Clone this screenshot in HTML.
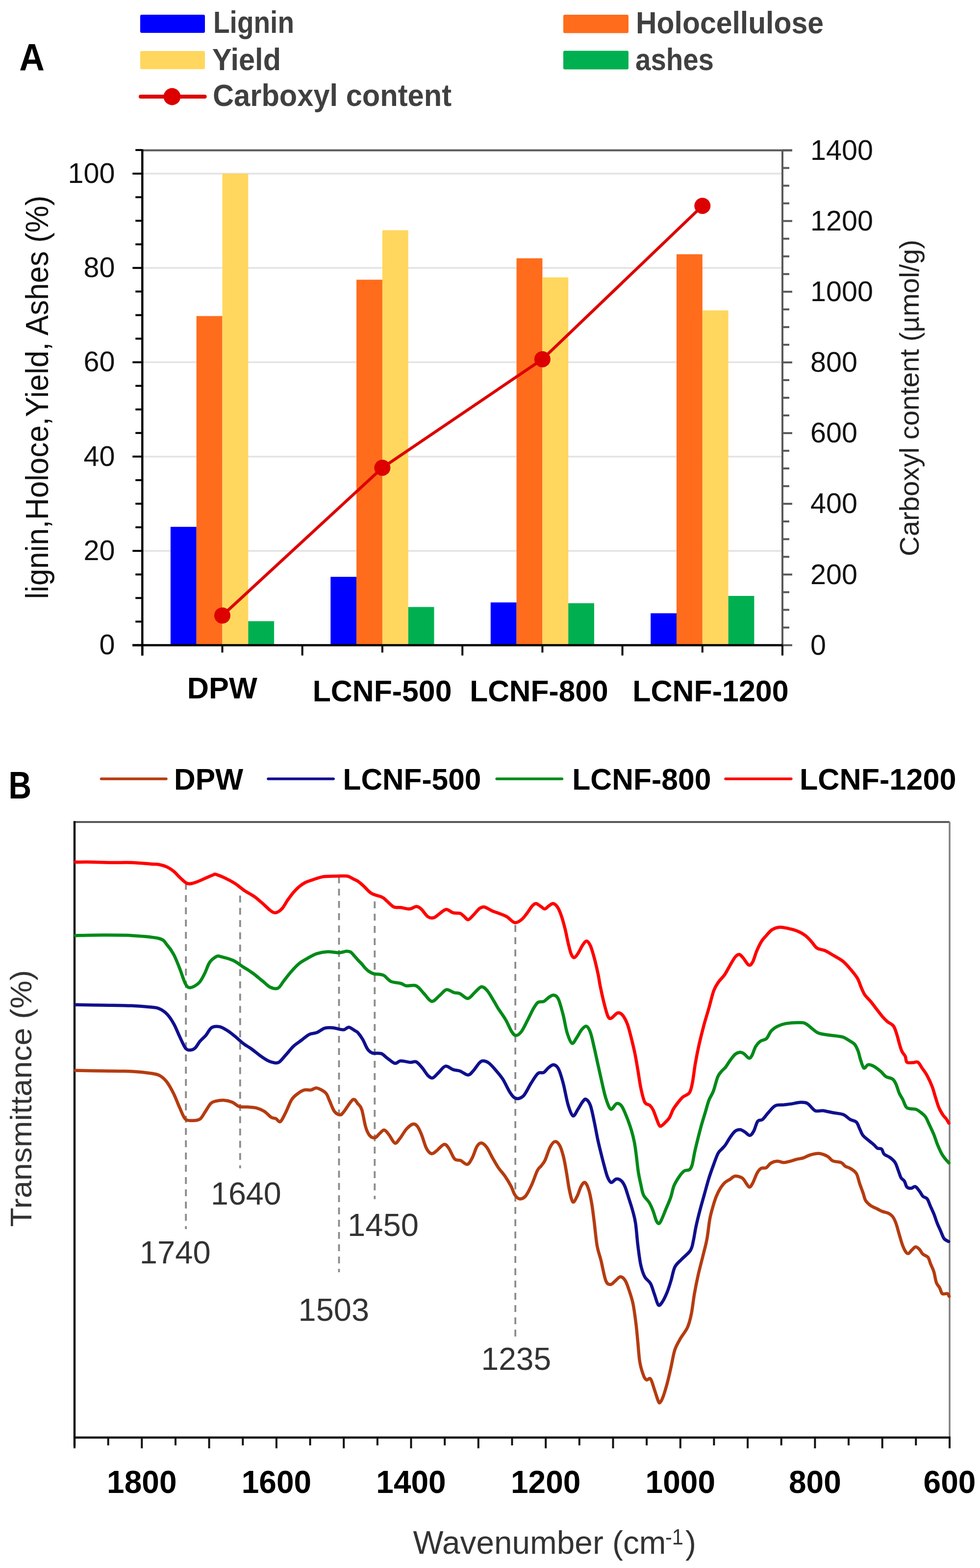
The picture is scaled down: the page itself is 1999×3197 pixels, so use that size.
<!DOCTYPE html>
<html><head><meta charset="utf-8"><title>Figure</title>
<style>html,body{margin:0;padding:0;background:#fff;}svg{display:block;font-family:"Liberation Sans", sans-serif;}</style>
</head><body>
<svg width="1999" height="3197" viewBox="0 0 1999 3197">
<rect width="1999" height="3197" fill="#fff"/>
<line x1="290.3" y1="1123.2" x2="1596.0" y2="1123.2" stroke="#E3E3E3" stroke-width="3.5"/>
<line x1="290.3" y1="930.9" x2="1596.0" y2="930.9" stroke="#E3E3E3" stroke-width="3.5"/>
<line x1="290.3" y1="738.6" x2="1596.0" y2="738.6" stroke="#E3E3E3" stroke-width="3.5"/>
<line x1="290.3" y1="546.3" x2="1596.0" y2="546.3" stroke="#E3E3E3" stroke-width="3.5"/>
<line x1="290.3" y1="354.0" x2="1596.0" y2="354.0" stroke="#E3E3E3" stroke-width="3.5"/>
<rect x="347.9" y="1074.2" width="52.8" height="241.3" fill="#0000FF"/>
<rect x="400.7" y="644.4" width="52.8" height="671.1" fill="#FF6C1C"/>
<rect x="453.5" y="354.0" width="52.8" height="961.5" fill="#FFD75E"/>
<rect x="506.3" y="1266.5" width="52.8" height="49.0" fill="#00B050"/>
<rect x="674.3" y="1176.1" width="52.8" height="139.4" fill="#0000FF"/>
<rect x="727.1" y="570.3" width="52.8" height="745.2" fill="#FF6C1C"/>
<rect x="779.9" y="469.4" width="52.8" height="846.1" fill="#FFD75E"/>
<rect x="832.7" y="1237.6" width="52.8" height="77.9" fill="#00B050"/>
<rect x="1000.8" y="1228.3" width="52.8" height="87.2" fill="#0000FF"/>
<rect x="1053.6" y="526.6" width="52.8" height="788.9" fill="#FF6C1C"/>
<rect x="1106.4" y="565.5" width="52.8" height="750.0" fill="#FFD75E"/>
<rect x="1159.2" y="1229.9" width="52.8" height="85.6" fill="#00B050"/>
<rect x="1327.2" y="1250.4" width="52.8" height="65.1" fill="#0000FF"/>
<rect x="1380.0" y="518.4" width="52.8" height="797.1" fill="#FF6C1C"/>
<rect x="1432.8" y="632.8" width="52.8" height="682.7" fill="#FFD75E"/>
<rect x="1485.6" y="1215.0" width="52.8" height="100.5" fill="#00B050"/>
<line x1="288.3" y1="306.5" x2="1616.0" y2="306.5" stroke="#595959" stroke-width="4"/>
<line x1="1596.0" y1="306.5" x2="1596.0" y2="1315.5" stroke="#595959" stroke-width="4"/>
<line x1="290.3" y1="304.5" x2="290.3" y2="1336.5" stroke="#000" stroke-width="4.5"/>
<line x1="270.3" y1="1315.5" x2="1598.0" y2="1315.5" stroke="#000" stroke-width="4.5"/>
<line x1="270.3" y1="1315.5" x2="290.3" y2="1315.5" stroke="#000" stroke-width="4"/>
<line x1="276.3" y1="1267.4" x2="290.3" y2="1267.4" stroke="#000" stroke-width="4"/>
<line x1="276.3" y1="1219.3" x2="290.3" y2="1219.3" stroke="#000" stroke-width="4"/>
<line x1="276.3" y1="1171.3" x2="290.3" y2="1171.3" stroke="#000" stroke-width="4"/>
<line x1="270.3" y1="1123.2" x2="290.3" y2="1123.2" stroke="#000" stroke-width="4"/>
<line x1="276.3" y1="1075.1" x2="290.3" y2="1075.1" stroke="#000" stroke-width="4"/>
<line x1="276.3" y1="1027.0" x2="290.3" y2="1027.0" stroke="#000" stroke-width="4"/>
<line x1="276.3" y1="979.0" x2="290.3" y2="979.0" stroke="#000" stroke-width="4"/>
<line x1="270.3" y1="930.9" x2="290.3" y2="930.9" stroke="#000" stroke-width="4"/>
<line x1="276.3" y1="882.8" x2="290.3" y2="882.8" stroke="#000" stroke-width="4"/>
<line x1="276.3" y1="834.8" x2="290.3" y2="834.8" stroke="#000" stroke-width="4"/>
<line x1="276.3" y1="786.7" x2="290.3" y2="786.7" stroke="#000" stroke-width="4"/>
<line x1="270.3" y1="738.6" x2="290.3" y2="738.6" stroke="#000" stroke-width="4"/>
<line x1="276.3" y1="690.5" x2="290.3" y2="690.5" stroke="#000" stroke-width="4"/>
<line x1="276.3" y1="642.5" x2="290.3" y2="642.5" stroke="#000" stroke-width="4"/>
<line x1="276.3" y1="594.4" x2="290.3" y2="594.4" stroke="#000" stroke-width="4"/>
<line x1="270.3" y1="546.3" x2="290.3" y2="546.3" stroke="#000" stroke-width="4"/>
<line x1="276.3" y1="498.2" x2="290.3" y2="498.2" stroke="#000" stroke-width="4"/>
<line x1="276.3" y1="450.1" x2="290.3" y2="450.1" stroke="#000" stroke-width="4"/>
<line x1="276.3" y1="402.1" x2="290.3" y2="402.1" stroke="#000" stroke-width="4"/>
<line x1="270.3" y1="354.0" x2="290.3" y2="354.0" stroke="#000" stroke-width="4"/>
<line x1="276.3" y1="305.9" x2="290.3" y2="305.9" stroke="#000" stroke-width="4"/>
<line x1="1596.0" y1="1315.5" x2="1616.0" y2="1315.5" stroke="#595959" stroke-width="4"/>
<line x1="1596.0" y1="1279.5" x2="1610.0" y2="1279.5" stroke="#595959" stroke-width="4"/>
<line x1="1596.0" y1="1243.4" x2="1610.0" y2="1243.4" stroke="#595959" stroke-width="4"/>
<line x1="1596.0" y1="1207.4" x2="1610.0" y2="1207.4" stroke="#595959" stroke-width="4"/>
<line x1="1596.0" y1="1171.4" x2="1616.0" y2="1171.4" stroke="#595959" stroke-width="4"/>
<line x1="1596.0" y1="1135.3" x2="1610.0" y2="1135.3" stroke="#595959" stroke-width="4"/>
<line x1="1596.0" y1="1099.3" x2="1610.0" y2="1099.3" stroke="#595959" stroke-width="4"/>
<line x1="1596.0" y1="1063.2" x2="1610.0" y2="1063.2" stroke="#595959" stroke-width="4"/>
<line x1="1596.0" y1="1027.2" x2="1616.0" y2="1027.2" stroke="#595959" stroke-width="4"/>
<line x1="1596.0" y1="991.2" x2="1610.0" y2="991.2" stroke="#595959" stroke-width="4"/>
<line x1="1596.0" y1="955.1" x2="1610.0" y2="955.1" stroke="#595959" stroke-width="4"/>
<line x1="1596.0" y1="919.1" x2="1610.0" y2="919.1" stroke="#595959" stroke-width="4"/>
<line x1="1596.0" y1="883.1" x2="1616.0" y2="883.1" stroke="#595959" stroke-width="4"/>
<line x1="1596.0" y1="847.0" x2="1610.0" y2="847.0" stroke="#595959" stroke-width="4"/>
<line x1="1596.0" y1="811.0" x2="1610.0" y2="811.0" stroke="#595959" stroke-width="4"/>
<line x1="1596.0" y1="775.0" x2="1610.0" y2="775.0" stroke="#595959" stroke-width="4"/>
<line x1="1596.0" y1="738.9" x2="1616.0" y2="738.9" stroke="#595959" stroke-width="4"/>
<line x1="1596.0" y1="702.9" x2="1610.0" y2="702.9" stroke="#595959" stroke-width="4"/>
<line x1="1596.0" y1="666.9" x2="1610.0" y2="666.9" stroke="#595959" stroke-width="4"/>
<line x1="1596.0" y1="630.8" x2="1610.0" y2="630.8" stroke="#595959" stroke-width="4"/>
<line x1="1596.0" y1="594.8" x2="1616.0" y2="594.8" stroke="#595959" stroke-width="4"/>
<line x1="1596.0" y1="558.8" x2="1610.0" y2="558.8" stroke="#595959" stroke-width="4"/>
<line x1="1596.0" y1="522.7" x2="1610.0" y2="522.7" stroke="#595959" stroke-width="4"/>
<line x1="1596.0" y1="486.7" x2="1610.0" y2="486.7" stroke="#595959" stroke-width="4"/>
<line x1="1596.0" y1="450.6" x2="1616.0" y2="450.6" stroke="#595959" stroke-width="4"/>
<line x1="1596.0" y1="414.6" x2="1610.0" y2="414.6" stroke="#595959" stroke-width="4"/>
<line x1="1596.0" y1="378.6" x2="1610.0" y2="378.6" stroke="#595959" stroke-width="4"/>
<line x1="1596.0" y1="342.5" x2="1610.0" y2="342.5" stroke="#595959" stroke-width="4"/>
<line x1="1596.0" y1="306.5" x2="1616.0" y2="306.5" stroke="#595959" stroke-width="4"/>
<line x1="290.3" y1="1315.5" x2="290.3" y2="1336.5" stroke="#000" stroke-width="4"/>
<line x1="453.5" y1="1315.5" x2="453.5" y2="1330.5" stroke="#000" stroke-width="4"/>
<line x1="616.7" y1="1315.5" x2="616.7" y2="1336.5" stroke="#000" stroke-width="4"/>
<line x1="779.9" y1="1315.5" x2="779.9" y2="1330.5" stroke="#000" stroke-width="4"/>
<line x1="943.2" y1="1315.5" x2="943.2" y2="1336.5" stroke="#000" stroke-width="4"/>
<line x1="1106.4" y1="1315.5" x2="1106.4" y2="1330.5" stroke="#000" stroke-width="4"/>
<line x1="1269.6" y1="1315.5" x2="1269.6" y2="1336.5" stroke="#000" stroke-width="4"/>
<line x1="1432.8" y1="1315.5" x2="1432.8" y2="1330.5" stroke="#000" stroke-width="4"/>
<line x1="1596.0" y1="1315.5" x2="1596.0" y2="1336.5" stroke="#000" stroke-width="4"/>
<polyline points="453.5,1255.0 779.9,953.7 1106.4,732.4 1432.8,419.7" fill="none" stroke="#DD0000" stroke-width="6" stroke-linejoin="round"/>
<circle cx="453.5" cy="1255.0" r="16.5" fill="#DD0000"/>
<circle cx="779.9" cy="953.7" r="16.5" fill="#DD0000"/>
<circle cx="1106.4" cy="732.4" r="16.5" fill="#DD0000"/>
<circle cx="1432.8" cy="419.7" r="16.5" fill="#DD0000"/>
<text x="234.5" y="1334.1" font-size="57.5" fill="#111" text-anchor="end">0</text>
<text x="234.5" y="1141.8" font-size="57.5" fill="#111" text-anchor="end">20</text>
<text x="234.5" y="949.5" font-size="57.5" fill="#111" text-anchor="end">40</text>
<text x="234.5" y="757.2" font-size="57.5" fill="#111" text-anchor="end">60</text>
<text x="234.5" y="564.9" font-size="57.5" fill="#111" text-anchor="end">80</text>
<text x="234.5" y="372.6" font-size="57.5" fill="#111" text-anchor="end">100</text>
<text x="1653.0" y="1334.7" font-size="57.5" fill="#111">0</text>
<text x="1653.0" y="1190.6" font-size="57.5" fill="#111">200</text>
<text x="1653.0" y="1046.4" font-size="57.5" fill="#111">400</text>
<text x="1653.0" y="902.3" font-size="57.5" fill="#111">600</text>
<text x="1653.0" y="758.1" font-size="57.5" fill="#111">800</text>
<text x="1653.0" y="614.0" font-size="57.5" fill="#111">1000</text>
<text x="1653.0" y="469.8" font-size="57.5" fill="#111">1200</text>
<text x="1653.0" y="325.7" font-size="57.5" fill="#111">1400</text>
<text x="381.8" y="1424.3" font-size="62" fill="#000" font-weight="bold" textLength="142.9" lengthAdjust="spacingAndGlyphs">DPW</text>
<text x="637.7" y="1429.6" font-size="62" fill="#000" font-weight="bold" textLength="283.8" lengthAdjust="spacingAndGlyphs">LCNF-500</text>
<text x="958.2" y="1430.4" font-size="62" fill="#000" font-weight="bold" textLength="282.4" lengthAdjust="spacingAndGlyphs">LCNF-800</text>
<text x="1290.2" y="1430.4" font-size="62" fill="#000" font-weight="bold" textLength="318.5" lengthAdjust="spacingAndGlyphs">LCNF-1200</text>
<text x="98.2" y="1221.6" font-size="64" fill="#111" textLength="823.0" lengthAdjust="spacingAndGlyphs" transform="rotate(-90 98.2 1221.6)">lignin,Holoce,Yield, Ashes (%)</text>
<text x="1874.0" y="1133.9" font-size="55" fill="#222" textLength="645.2" lengthAdjust="spacingAndGlyphs" transform="rotate(-90 1874.0 1133.9)">Carboxyl content (µmol/g)</text>
<rect x="286.0" y="30.0" width="132.0" height="37.0" fill="#0000FF" rx="3"/>
<rect x="286.0" y="104.0" width="132.0" height="37.0" fill="#FFD75E" rx="3"/>
<rect x="1149.0" y="30.0" width="133.0" height="37.5" fill="#FF6C1C" rx="3"/>
<rect x="1149.0" y="103.5" width="133.0" height="38.0" fill="#00B050" rx="3"/>
<line x1="287.0" y1="197.0" x2="417.6" y2="197.0" stroke="#DD0000" stroke-width="8" stroke-linecap="round"/>
<circle cx="351" cy="197" r="17.4" fill="#DD0000"/>
<text x="435.0" y="67.4" font-size="63" fill="#404040" font-weight="bold" textLength="165.0" lengthAdjust="spacingAndGlyphs">Lignin</text>
<text x="433.0" y="143.0" font-size="63" fill="#404040" font-weight="bold" textLength="140.0" lengthAdjust="spacingAndGlyphs">Yield</text>
<text x="434.0" y="216.0" font-size="63" fill="#404040" font-weight="bold" textLength="487.0" lengthAdjust="spacingAndGlyphs">Carboxyl content</text>
<text x="1297.0" y="68.4" font-size="63" fill="#404040" font-weight="bold" textLength="383.0" lengthAdjust="spacingAndGlyphs">Holocellulose</text>
<text x="1296.0" y="142.7" font-size="63" fill="#404040" font-weight="bold" textLength="160.0" lengthAdjust="spacingAndGlyphs">ashes</text>
<text x="39.2" y="144.2" font-size="78" fill="#000" font-weight="bold" textLength="51.6" lengthAdjust="spacingAndGlyphs">A</text>
<text x="17.4" y="1628.0" font-size="78" fill="#000" font-weight="bold" textLength="46.6" lengthAdjust="spacingAndGlyphs">B</text>
<line x1="206.5" y1="1588.0" x2="339.0" y2="1588.0" stroke="#B53C10" stroke-width="5.5" stroke-linecap="round"/>
<text x="355.0" y="1610.0" font-size="62" fill="#000" font-weight="bold" textLength="141.2" lengthAdjust="spacingAndGlyphs">DPW</text>
<line x1="547.0" y1="1588.0" x2="680.2" y2="1588.0" stroke="#10108E" stroke-width="5.5" stroke-linecap="round"/>
<text x="699.5" y="1610.0" font-size="62" fill="#000" font-weight="bold" textLength="281.8" lengthAdjust="spacingAndGlyphs">LCNF-500</text>
<line x1="1013.2" y1="1588.0" x2="1146.4" y2="1588.0" stroke="#008A18" stroke-width="5.5" stroke-linecap="round"/>
<text x="1167.3" y="1610.0" font-size="62" fill="#000" font-weight="bold" textLength="283.1" lengthAdjust="spacingAndGlyphs">LCNF-800</text>
<line x1="1480.0" y1="1588.0" x2="1613.8" y2="1588.0" stroke="#FF0000" stroke-width="5.5" stroke-linecap="round"/>
<text x="1631.0" y="1610.0" font-size="62" fill="#000" font-weight="bold" textLength="319.4" lengthAdjust="spacingAndGlyphs">LCNF-1200</text>
<line x1="150.0" y1="1676.0" x2="1937.0" y2="1676.0" stroke="#595959" stroke-width="4"/>
<line x1="1937.0" y1="1676.0" x2="1937.0" y2="2931.0" stroke="#7f7f7f" stroke-width="3.5"/>
<line x1="152.0" y1="1674.0" x2="152.0" y2="2949.0" stroke="#111" stroke-width="4.5"/>
<line x1="152.0" y1="2931.0" x2="1939.0" y2="2931.0" stroke="#111" stroke-width="4.5"/>
<line x1="152.0" y1="2931.0" x2="152.0" y2="2953.0" stroke="#111" stroke-width="4"/>
<line x1="220.7" y1="2931.0" x2="220.7" y2="2947.0" stroke="#111" stroke-width="4"/>
<line x1="289.3" y1="2931.0" x2="289.3" y2="2953.0" stroke="#111" stroke-width="4"/>
<line x1="358.0" y1="2931.0" x2="358.0" y2="2947.0" stroke="#111" stroke-width="4"/>
<line x1="426.6" y1="2931.0" x2="426.6" y2="2953.0" stroke="#111" stroke-width="4"/>
<line x1="495.3" y1="2931.0" x2="495.3" y2="2947.0" stroke="#111" stroke-width="4"/>
<line x1="563.9" y1="2931.0" x2="563.9" y2="2953.0" stroke="#111" stroke-width="4"/>
<line x1="632.6" y1="2931.0" x2="632.6" y2="2947.0" stroke="#111" stroke-width="4"/>
<line x1="701.2" y1="2931.0" x2="701.2" y2="2953.0" stroke="#111" stroke-width="4"/>
<line x1="769.9" y1="2931.0" x2="769.9" y2="2947.0" stroke="#111" stroke-width="4"/>
<line x1="838.5" y1="2931.0" x2="838.5" y2="2953.0" stroke="#111" stroke-width="4"/>
<line x1="907.2" y1="2931.0" x2="907.2" y2="2947.0" stroke="#111" stroke-width="4"/>
<line x1="975.8" y1="2931.0" x2="975.8" y2="2953.0" stroke="#111" stroke-width="4"/>
<line x1="1044.5" y1="2931.0" x2="1044.5" y2="2947.0" stroke="#111" stroke-width="4"/>
<line x1="1113.2" y1="2931.0" x2="1113.2" y2="2953.0" stroke="#111" stroke-width="4"/>
<line x1="1181.8" y1="2931.0" x2="1181.8" y2="2947.0" stroke="#111" stroke-width="4"/>
<line x1="1250.5" y1="2931.0" x2="1250.5" y2="2953.0" stroke="#111" stroke-width="4"/>
<line x1="1319.1" y1="2931.0" x2="1319.1" y2="2947.0" stroke="#111" stroke-width="4"/>
<line x1="1387.8" y1="2931.0" x2="1387.8" y2="2953.0" stroke="#111" stroke-width="4"/>
<line x1="1456.4" y1="2931.0" x2="1456.4" y2="2947.0" stroke="#111" stroke-width="4"/>
<line x1="1525.1" y1="2931.0" x2="1525.1" y2="2953.0" stroke="#111" stroke-width="4"/>
<line x1="1593.7" y1="2931.0" x2="1593.7" y2="2947.0" stroke="#111" stroke-width="4"/>
<line x1="1662.4" y1="2931.0" x2="1662.4" y2="2953.0" stroke="#111" stroke-width="4"/>
<line x1="1731.0" y1="2931.0" x2="1731.0" y2="2947.0" stroke="#111" stroke-width="4"/>
<line x1="1799.7" y1="2931.0" x2="1799.7" y2="2953.0" stroke="#111" stroke-width="4"/>
<line x1="1868.3" y1="2931.0" x2="1868.3" y2="2947.0" stroke="#111" stroke-width="4"/>
<line x1="1937.0" y1="2931.0" x2="1937.0" y2="2953.0" stroke="#111" stroke-width="4"/>
<text x="1937.0" y="3044.0" font-size="64" fill="#000" font-weight="bold" text-anchor="middle">600</text>
<text x="1662.4" y="3044.0" font-size="64" fill="#000" font-weight="bold" text-anchor="middle">800</text>
<text x="1387.8" y="3044.0" font-size="64" fill="#000" font-weight="bold" text-anchor="middle">1000</text>
<text x="1113.2" y="3044.0" font-size="64" fill="#000" font-weight="bold" text-anchor="middle">1200</text>
<text x="838.5" y="3044.0" font-size="64" fill="#000" font-weight="bold" text-anchor="middle">1400</text>
<text x="563.9" y="3044.0" font-size="64" fill="#000" font-weight="bold" text-anchor="middle">1600</text>
<text x="289.3" y="3044.0" font-size="64" fill="#000" font-weight="bold" text-anchor="middle">1800</text>
<text x="842.5" y="3168.1" font-size="66" fill="#333" textLength="516" lengthAdjust="spacingAndGlyphs">Wavenumber (cm</text>
<text x="1357" y="3149" font-size="44" fill="#333" textLength="37" lengthAdjust="spacingAndGlyphs">-1</text>
<text x="1398" y="3168.1" font-size="66" fill="#333">)</text>
<text x="64.5" y="2501.4" font-size="61" fill="#333" textLength="523.7" lengthAdjust="spacingAndGlyphs" transform="rotate(-90 64.5 2501.4)">Transmittance (%)</text>
<line x1="379.2" y1="1800.0" x2="379.2" y2="2506.0" stroke="#8c8c8c" stroke-width="3.8" stroke-dasharray="14,11"/>
<line x1="489.8" y1="1826.0" x2="489.8" y2="2382.0" stroke="#8c8c8c" stroke-width="3.8" stroke-dasharray="14,11"/>
<line x1="691.5" y1="1787.0" x2="691.5" y2="2594.0" stroke="#8c8c8c" stroke-width="3.8" stroke-dasharray="14,11"/>
<line x1="764.3" y1="1838.0" x2="764.3" y2="2445.0" stroke="#8c8c8c" stroke-width="3.8" stroke-dasharray="14,11"/>
<line x1="1051.2" y1="1886.0" x2="1051.2" y2="2726.0" stroke="#8c8c8c" stroke-width="3.8" stroke-dasharray="14,11"/>
<path d="M154.0,2182.5 C163.2,2182.7 190.3,2183.2 209.5,2183.5 C228.7,2183.8 252.5,2183.7 269.0,2184.5 C285.5,2185.3 299.1,2187.0 308.7,2188.5 C318.3,2190.0 321.3,2190.5 326.6,2193.5 C331.9,2196.5 335.9,2200.2 340.5,2206.3 C345.1,2212.4 350.1,2221.6 354.4,2230.2 C358.7,2238.8 362.3,2249.4 366.3,2258.0 C370.3,2266.6 373.6,2277.2 378.2,2281.7 C382.8,2286.1 389.1,2284.7 394.0,2284.7 C398.9,2284.7 403.9,2284.5 407.9,2281.7 C411.9,2278.9 414.2,2273.2 417.9,2267.9 C421.5,2262.6 426.1,2253.8 429.8,2250.0 C433.5,2246.2 435.6,2246.3 440.0,2245.2 C444.4,2244.1 450.3,2242.9 455.9,2243.2 C461.5,2243.5 468.4,2245.0 473.7,2247.2 C479.0,2249.3 482.3,2254.4 487.6,2256.1 C492.9,2257.8 499.6,2256.6 505.5,2257.1 C511.4,2257.6 517.7,2257.6 523.3,2259.1 C528.9,2260.6 534.2,2262.9 539.2,2266.0 C544.2,2269.1 549.1,2275.4 553.1,2277.9 C557.1,2280.4 559.9,2279.4 563.0,2280.9 C566.1,2282.4 568.6,2289.1 571.9,2286.9 C575.2,2284.8 579.1,2275.4 582.9,2268.0 C586.7,2260.6 590.8,2248.5 594.8,2242.2 C598.8,2235.9 602.4,2233.6 606.7,2230.3 C611.0,2227.0 616.0,2223.7 620.6,2222.4 C625.2,2221.1 630.1,2223.1 634.4,2222.4 C638.7,2221.7 641.3,2217.4 646.3,2218.4 C651.3,2219.4 659.9,2224.0 664.2,2228.3 C668.5,2232.6 669.1,2237.9 672.1,2244.2 C675.1,2250.5 678.5,2261.2 682.1,2266.0 C685.8,2270.8 690.7,2273.0 694.0,2273.0 C697.3,2273.0 697.6,2271.1 701.9,2266.0 C706.2,2260.9 715.2,2244.8 719.8,2242.2 C724.4,2239.6 726.7,2246.9 729.7,2250.2 C732.7,2253.5 735.2,2254.2 737.9,2262.2 C740.6,2270.1 743.2,2289.1 745.9,2297.9 C748.5,2306.7 750.7,2311.2 753.8,2314.8 C756.9,2318.5 761.4,2320.3 764.7,2319.8 C768.0,2319.3 770.6,2314.5 773.7,2311.8 C776.9,2309.2 780.3,2303.6 783.6,2303.9 C786.9,2304.2 789.9,2309.3 793.5,2313.8 C797.1,2318.3 801.8,2329.4 805.4,2330.7 C809.0,2332.0 811.3,2326.5 815.3,2321.7 C819.3,2316.9 824.7,2306.8 829.2,2301.9 C833.7,2297.0 838.5,2293.0 842.1,2292.0 C845.7,2291.0 848.0,2292.4 851.0,2296.0 C854.0,2299.6 856.8,2305.9 859.9,2313.5 C863.0,2321.1 866.5,2334.9 869.8,2341.3 C873.1,2347.8 876.5,2351.2 879.8,2352.2 C883.1,2353.2 885.4,2350.3 889.7,2347.2 C894.0,2344.0 901.3,2334.3 905.6,2333.3 C909.9,2332.3 911.9,2336.3 915.5,2341.3 C919.1,2346.3 923.4,2359.0 927.4,2363.1 C931.4,2367.2 935.0,2364.3 939.3,2366.1 C943.6,2367.9 949.2,2374.8 953.2,2374.0 C957.2,2373.2 959.8,2367.2 963.1,2361.1 C966.4,2355.0 969.9,2342.4 973.0,2337.3 C976.1,2332.2 978.6,2330.1 981.9,2330.4 C985.2,2330.7 989.1,2334.2 992.9,2339.3 C996.7,2344.4 1000.8,2354.2 1004.8,2361.1 C1008.8,2368.0 1012.4,2374.7 1016.7,2381.0 C1021.0,2387.3 1026.3,2392.5 1030.6,2398.8 C1034.9,2405.1 1039.2,2412.4 1042.5,2418.7 C1045.8,2425.0 1047.4,2432.2 1050.4,2436.5 C1053.4,2440.8 1056.7,2444.1 1060.3,2444.4 C1063.9,2444.7 1068.2,2443.1 1072.2,2438.5 C1076.2,2433.9 1080.1,2425.3 1084.1,2416.7 C1088.1,2408.1 1092.7,2393.5 1096.0,2386.9 C1099.3,2380.3 1101.3,2380.6 1104.0,2377.0 C1106.7,2373.4 1108.9,2371.6 1111.9,2365.3 C1114.9,2359.1 1118.5,2345.8 1121.8,2339.5 C1125.1,2333.2 1128.4,2328.2 1131.7,2327.6 C1135.0,2326.9 1138.7,2330.3 1141.7,2335.6 C1144.7,2340.9 1147.3,2350.2 1149.6,2359.4 C1151.9,2368.7 1153.6,2379.9 1155.6,2391.1 C1157.6,2402.3 1159.3,2416.9 1161.5,2426.8 C1163.7,2436.7 1165.8,2448.6 1168.5,2450.6 C1171.2,2452.6 1174.6,2444.0 1177.4,2438.7 C1180.2,2433.4 1182.7,2423.5 1185.3,2418.9 C1187.9,2414.3 1190.6,2409.7 1193.3,2411.0 C1196.0,2412.3 1198.9,2419.5 1201.2,2426.8 C1203.5,2434.1 1205.3,2444.1 1207.1,2454.6 C1208.9,2465.1 1210.1,2475.8 1211.9,2490.0 C1213.7,2504.2 1215.6,2526.5 1217.9,2539.7 C1220.2,2552.9 1222.8,2557.5 1225.8,2569.4 C1228.8,2581.3 1232.4,2602.8 1235.7,2611.1 C1239.0,2619.4 1242.3,2619.0 1245.6,2619.0 C1248.9,2619.0 1252.3,2613.7 1255.6,2611.1 C1258.9,2608.5 1262.2,2603.2 1265.5,2603.2 C1268.8,2603.2 1272.4,2606.5 1275.4,2611.1 C1278.4,2615.7 1280.7,2623.1 1283.3,2631.0 C1285.9,2638.9 1289.0,2647.5 1291.3,2658.7 C1293.6,2669.9 1295.5,2685.2 1297.2,2698.4 C1298.9,2711.6 1299.9,2724.9 1301.2,2738.1 C1302.5,2751.3 1303.2,2766.6 1305.2,2777.8 C1307.2,2789.1 1310.8,2799.7 1313.1,2805.6 C1315.4,2811.5 1316.7,2812.5 1319.0,2813.5 C1321.3,2814.5 1324.3,2808.2 1327.0,2811.5 C1329.7,2814.8 1332.2,2825.7 1334.9,2833.3 C1337.6,2840.9 1340.9,2852.8 1342.9,2857.1 C1344.9,2861.4 1345.2,2860.8 1346.8,2859.1 C1348.4,2857.4 1350.5,2853.5 1352.8,2847.2 C1355.1,2840.9 1358.0,2831.3 1360.7,2821.4 C1363.4,2811.5 1366.1,2799.3 1368.7,2787.7 C1371.3,2776.1 1373.3,2761.9 1376.6,2752.0 C1379.9,2742.1 1384.2,2735.8 1388.5,2728.2 C1392.8,2720.6 1398.8,2714.6 1402.4,2706.3 C1406.0,2698.0 1408.0,2689.8 1410.3,2678.6 C1412.6,2667.4 1414.0,2652.1 1416.3,2638.9 C1418.6,2625.7 1421.2,2612.4 1424.2,2599.2 C1427.2,2586.0 1431.1,2571.7 1434.1,2559.5 C1437.1,2547.3 1439.8,2538.2 1442.1,2525.8 C1444.4,2513.4 1445.8,2496.5 1447.9,2485.3 C1450.0,2474.2 1452.4,2466.6 1454.6,2458.9 C1456.8,2451.2 1458.8,2444.9 1461.2,2439.0 C1463.6,2433.1 1466.2,2427.8 1469.1,2423.2 C1472.0,2418.6 1475.1,2414.4 1478.4,2411.3 C1481.7,2408.2 1485.4,2406.9 1488.9,2404.7 C1492.4,2402.5 1495.3,2398.4 1499.5,2398.0 C1503.7,2397.6 1510.3,2399.6 1514.1,2402.0 C1517.8,2404.4 1519.6,2409.5 1522.0,2412.6 C1524.4,2415.7 1526.4,2420.5 1528.6,2420.5 C1530.8,2420.5 1532.5,2417.4 1535.2,2412.6 C1537.9,2407.8 1541.6,2396.5 1544.5,2391.4 C1547.4,2386.3 1549.3,2384.0 1552.4,2382.2 C1555.5,2380.4 1559.7,2382.6 1563.0,2380.8 C1566.3,2379.0 1568.5,2373.8 1572.3,2371.6 C1576.0,2369.4 1581.1,2367.8 1585.5,2367.6 C1589.9,2367.4 1594.3,2370.3 1598.7,2370.3 C1603.1,2370.3 1607.6,2368.7 1612.0,2367.6 C1616.4,2366.5 1620.8,2364.8 1625.2,2363.7 C1629.7,2362.6 1634.1,2362.3 1638.7,2360.8 C1643.3,2359.3 1647.3,2356.3 1652.6,2354.8 C1657.9,2353.3 1664.5,2351.3 1670.5,2351.8 C1676.5,2352.3 1683.6,2355.3 1688.3,2357.8 C1693.0,2360.3 1694.0,2364.8 1698.6,2366.9 C1703.2,2369.0 1711.5,2368.5 1715.8,2370.4 C1720.1,2372.3 1721.2,2376.1 1724.4,2378.1 C1727.6,2380.1 1731.0,2380.0 1734.7,2382.4 C1738.4,2384.8 1743.7,2387.5 1746.8,2392.7 C1749.9,2397.9 1751.3,2406.8 1753.6,2413.4 C1755.9,2420.0 1758.5,2426.6 1760.5,2432.3 C1762.5,2438.0 1763.1,2443.5 1765.7,2447.8 C1768.3,2452.1 1772.0,2455.2 1776.0,2458.1 C1780.0,2461.0 1785.7,2463.0 1789.7,2465.0 C1793.7,2467.0 1796.4,2468.7 1800.1,2470.1 C1803.8,2471.5 1808.7,2471.9 1812.1,2473.6 C1815.5,2475.3 1818.1,2477.0 1820.7,2480.4 C1823.3,2483.8 1825.3,2487.9 1827.6,2494.2 C1829.9,2500.5 1832.3,2510.4 1834.6,2518.0 C1836.9,2525.6 1839.1,2533.9 1841.3,2539.7 C1843.5,2545.5 1845.9,2550.2 1847.9,2552.9 C1849.9,2555.6 1851.2,2556.3 1853.2,2555.6 C1855.2,2554.9 1857.4,2551.1 1859.8,2548.9 C1862.2,2546.7 1865.0,2542.5 1867.7,2542.3 C1870.4,2542.1 1873.3,2545.2 1875.7,2547.6 C1878.1,2550.0 1879.4,2554.2 1882.3,2556.9 C1885.2,2559.6 1890.3,2560.2 1892.9,2563.5 C1895.5,2566.8 1896.1,2571.8 1898.1,2576.7 C1900.1,2581.5 1902.8,2586.2 1904.8,2592.6 C1906.8,2599.0 1908.0,2609.6 1910.0,2615.1 C1912.0,2620.6 1914.7,2621.9 1916.7,2625.7 C1918.7,2629.4 1919.4,2635.6 1922.0,2637.6 C1924.6,2639.6 1930.2,2636.7 1932.5,2637.6 C1934.8,2638.5 1935.4,2642.1 1936.0,2643.0" fill="none" stroke="#B53C10" stroke-width="6.5" stroke-linejoin="round" stroke-linecap="round"/>
<path d="M154.0,2048.6 C163.2,2048.8 190.3,2049.3 209.5,2049.6 C228.7,2049.9 252.5,2049.9 269.0,2050.6 C285.5,2051.3 299.4,2052.6 308.7,2053.6 C318.0,2054.6 319.3,2054.2 324.6,2056.5 C329.9,2058.8 335.5,2062.4 340.5,2067.5 C345.5,2072.6 350.1,2079.7 354.4,2087.3 C358.7,2094.9 362.3,2104.8 366.3,2113.1 C370.3,2121.4 374.6,2132.3 378.2,2136.9 C381.8,2141.5 384.8,2140.9 388.1,2140.9 C391.4,2140.9 394.7,2139.9 398.0,2136.9 C401.3,2133.9 404.3,2127.3 407.9,2123.0 C411.5,2118.7 415.8,2115.7 419.8,2111.1 C423.8,2106.5 427.0,2098.1 431.7,2095.2 C436.4,2092.2 442.5,2092.4 447.9,2093.4 C453.2,2094.4 458.5,2098.0 463.8,2101.3 C469.1,2104.6 474.4,2109.0 479.7,2113.3 C485.0,2117.6 490.0,2122.8 495.6,2127.1 C501.2,2131.4 507.4,2134.7 513.4,2139.0 C519.3,2143.3 525.7,2148.9 531.3,2152.9 C536.9,2156.9 542.5,2160.6 547.1,2162.9 C551.7,2165.2 555.4,2166.3 559.0,2166.8 C562.6,2167.3 565.0,2168.4 569.0,2165.8 C573.0,2163.2 577.9,2156.4 582.9,2151.0 C587.9,2145.6 593.4,2138.1 598.7,2133.1 C604.0,2128.1 609.3,2125.2 614.6,2121.2 C619.9,2117.2 625.2,2112.0 630.5,2109.3 C635.8,2106.7 641.0,2107.5 646.3,2105.3 C651.6,2103.2 656.9,2098.1 662.2,2096.4 C667.5,2094.8 673.1,2095.1 678.1,2095.4 C683.1,2095.7 688.0,2097.7 692.0,2098.4 C696.0,2099.1 698.6,2100.1 701.9,2099.4 C705.2,2098.7 708.2,2094.1 711.8,2094.4 C715.4,2094.7 720.7,2099.5 723.7,2101.3 C726.7,2103.2 727.3,2102.5 730.0,2105.5 C732.7,2108.5 736.6,2113.8 739.9,2119.4 C743.2,2125.0 746.5,2134.6 749.8,2139.2 C753.1,2143.8 755.2,2145.6 759.8,2147.1 C764.4,2148.6 772.6,2146.4 777.6,2148.1 C782.6,2149.8 784.9,2153.8 789.5,2157.1 C794.1,2160.4 800.8,2167.0 805.4,2168.0 C810.0,2169.0 812.0,2163.3 817.3,2163.0 C822.6,2162.7 831.8,2165.7 837.1,2166.0 C842.4,2166.3 845.0,2163.2 849.0,2165.0 C853.0,2166.8 857.0,2172.3 861.0,2176.9 C865.0,2181.5 869.3,2189.3 872.9,2192.8 C876.5,2196.3 879.2,2198.7 882.8,2197.7 C886.4,2196.7 890.4,2190.8 894.7,2186.8 C899.0,2182.8 903.7,2174.9 908.6,2173.9 C913.5,2172.9 919.5,2179.2 924.4,2180.9 C929.3,2182.6 933.3,2182.0 938.3,2183.8 C943.3,2185.6 949.9,2191.6 954.2,2191.8 C958.5,2192.0 960.1,2188.9 964.1,2184.8 C968.1,2180.7 974.4,2170.6 978.0,2167.0 C981.6,2163.4 982.7,2162.8 986.0,2163.0 C989.3,2163.2 993.6,2164.7 997.9,2168.0 C1002.2,2171.3 1007.2,2177.4 1011.9,2182.8 C1016.5,2188.2 1021.2,2193.3 1025.8,2200.6 C1030.4,2207.9 1035.7,2220.1 1039.7,2226.4 C1043.7,2232.7 1046.3,2236.2 1049.6,2238.3 C1052.9,2240.5 1056.2,2240.3 1059.5,2239.3 C1062.8,2238.3 1065.4,2237.5 1069.4,2232.4 C1073.4,2227.3 1078.7,2215.9 1083.3,2208.6 C1087.9,2201.3 1092.9,2192.3 1097.2,2188.7 C1101.5,2185.0 1105.5,2188.7 1109.1,2186.7 C1112.7,2184.7 1115.7,2179.4 1119.0,2176.8 C1122.3,2174.2 1125.7,2170.6 1129.0,2170.9 C1132.3,2171.2 1135.6,2172.5 1138.9,2178.8 C1142.2,2185.1 1145.5,2196.4 1148.8,2208.6 C1152.1,2220.8 1155.4,2241.1 1158.7,2252.2 C1162.0,2263.3 1165.4,2273.3 1168.7,2275.0 C1172.0,2276.7 1175.3,2266.9 1178.6,2262.1 C1181.9,2257.3 1185.7,2249.8 1188.5,2246.3 C1191.3,2242.8 1192.8,2240.0 1195.4,2241.3 C1198.1,2242.6 1201.6,2246.4 1204.4,2254.2 C1207.2,2262.0 1209.9,2276.6 1212.3,2287.9 C1214.7,2299.2 1217.2,2313.4 1219.0,2322.0 C1220.8,2330.6 1221.0,2331.3 1223.0,2339.5 C1225.0,2347.7 1228.3,2361.4 1231.0,2371.3 C1233.7,2381.2 1236.3,2392.4 1238.9,2399.0 C1241.5,2405.6 1243.8,2410.2 1246.8,2411.0 C1249.8,2411.8 1253.4,2404.7 1256.7,2404.0 C1260.0,2403.3 1263.7,2404.5 1266.7,2407.0 C1269.7,2409.5 1272.0,2413.0 1274.6,2418.9 C1277.2,2424.8 1279.8,2434.4 1282.5,2442.7 C1285.2,2451.0 1288.2,2459.9 1290.5,2468.5 C1292.8,2477.1 1294.6,2482.4 1296.4,2494.3 C1298.2,2506.2 1299.4,2525.5 1301.2,2539.7 C1303.0,2553.9 1304.8,2568.8 1307.1,2579.4 C1309.4,2590.0 1311.8,2596.9 1315.1,2603.2 C1318.4,2609.5 1323.7,2611.1 1327.0,2617.1 C1330.3,2623.1 1332.2,2631.6 1334.9,2638.9 C1337.6,2646.2 1340.2,2658.0 1342.9,2660.7 C1345.6,2663.3 1347.8,2659.1 1350.8,2654.8 C1353.8,2650.5 1357.7,2642.2 1360.7,2634.9 C1363.7,2627.6 1366.1,2619.7 1368.7,2611.1 C1371.3,2602.5 1373.0,2590.6 1376.6,2583.3 C1380.2,2576.0 1385.2,2573.1 1390.5,2567.5 C1395.8,2561.9 1404.3,2555.9 1408.3,2549.6 C1412.3,2543.3 1412.4,2537.9 1414.3,2529.8 C1416.2,2521.7 1417.4,2511.5 1419.6,2501.2 C1421.8,2490.9 1424.7,2479.1 1427.6,2468.1 C1430.5,2457.1 1433.7,2446.0 1436.8,2435.0 C1439.9,2424.0 1443.0,2411.9 1446.1,2402.0 C1449.2,2392.1 1452.2,2383.9 1455.3,2375.5 C1458.4,2367.1 1461.6,2357.3 1464.6,2351.7 C1467.5,2346.1 1470.4,2344.9 1473.0,2342.0 C1475.6,2339.1 1477.2,2338.0 1480.0,2334.0 C1482.8,2330.0 1486.6,2322.7 1489.9,2318.1 C1493.2,2313.5 1496.5,2308.7 1499.8,2306.2 C1503.1,2303.7 1506.5,2302.9 1509.8,2303.2 C1513.1,2303.5 1516.4,2306.2 1519.7,2308.2 C1523.0,2310.2 1526.6,2315.4 1529.6,2315.1 C1532.6,2314.8 1534.8,2311.0 1537.5,2306.2 C1540.2,2301.4 1542.5,2290.3 1545.5,2286.3 C1548.5,2282.3 1551.8,2285.4 1555.4,2282.4 C1559.0,2279.4 1563.0,2273.1 1567.3,2268.5 C1571.6,2263.9 1575.9,2257.2 1581.2,2254.6 C1586.5,2251.9 1593.4,2253.3 1599.0,2252.6 C1604.6,2251.9 1609.6,2251.4 1614.9,2250.6 C1620.2,2249.8 1625.5,2247.9 1630.8,2247.7 C1636.1,2247.5 1641.4,2246.8 1646.7,2249.6 C1652.0,2252.4 1657.2,2262.0 1662.5,2264.5 C1667.8,2267.0 1672.4,2263.8 1678.4,2264.5 C1684.4,2265.2 1691.3,2267.2 1698.3,2268.5 C1705.2,2269.8 1714.1,2270.2 1720.1,2272.5 C1726.0,2274.8 1729.5,2279.8 1734.0,2282.4 C1738.5,2285.0 1743.5,2284.6 1746.8,2287.8 C1750.1,2291.0 1751.3,2297.0 1753.6,2301.6 C1755.9,2306.2 1757.3,2311.3 1760.5,2315.3 C1763.7,2319.3 1768.8,2322.5 1772.5,2325.7 C1776.2,2328.9 1780.0,2331.7 1782.9,2334.3 C1785.8,2336.9 1787.1,2339.7 1789.7,2341.1 C1792.3,2342.5 1796.0,2340.9 1798.3,2342.9 C1800.6,2344.9 1800.6,2350.3 1803.5,2353.2 C1806.4,2356.1 1811.8,2357.2 1815.5,2360.1 C1819.2,2363.0 1823.0,2365.8 1825.9,2370.4 C1828.8,2375.0 1830.7,2382.4 1832.7,2387.6 C1834.7,2392.8 1835.9,2397.9 1837.9,2401.3 C1839.9,2404.7 1842.8,2405.0 1844.8,2408.2 C1846.8,2411.3 1847.6,2417.8 1849.9,2420.2 C1852.2,2422.6 1855.6,2422.9 1858.5,2422.8 C1861.4,2422.7 1864.2,2418.4 1867.1,2419.4 C1870.0,2420.4 1873.1,2425.5 1875.7,2428.8 C1878.3,2432.1 1880.0,2436.6 1882.6,2439.2 C1885.2,2441.8 1888.6,2440.9 1891.2,2444.3 C1893.8,2447.7 1895.8,2454.6 1898.1,2459.8 C1900.4,2465.0 1902.7,2469.6 1905.0,2475.3 C1907.3,2481.0 1909.5,2488.5 1911.8,2494.2 C1914.1,2499.9 1916.4,2504.5 1918.7,2509.7 C1921.0,2514.9 1922.9,2521.6 1925.6,2525.2 C1928.3,2528.8 1933.4,2530.3 1935.0,2531.3" fill="none" stroke="#10108E" stroke-width="6.5" stroke-linejoin="round" stroke-linecap="round"/>
<path d="M154.0,1907.5 C163.2,1907.3 190.3,1906.5 209.5,1906.5 C228.7,1906.5 249.8,1906.3 269.0,1907.5 C288.2,1908.7 312.7,1910.4 324.6,1913.5 C336.5,1916.6 335.5,1920.8 340.5,1926.3 C345.5,1931.8 350.1,1938.2 354.4,1946.2 C358.7,1954.2 362.3,1964.1 366.3,1974.0 C370.3,1983.9 374.6,1999.1 378.2,2005.7 C381.8,2012.3 383.5,2014.0 388.1,2013.7 C392.7,2013.4 401.0,2008.7 406.0,2003.7 C411.0,1998.7 414.3,1990.9 417.9,1983.9 C421.5,1977.0 423.8,1967.6 427.8,1962.0 C431.8,1956.4 438.0,1952.2 441.7,1950.2 C445.4,1948.2 444.2,1949.0 449.9,1950.3 C455.6,1951.6 468.1,1954.8 475.7,1958.3 C483.3,1961.8 489.0,1966.9 495.6,1971.2 C502.2,1975.5 508.8,1979.2 515.4,1984.0 C522.0,1988.8 529.2,1995.1 535.2,1999.9 C541.2,2004.7 545.8,2010.3 551.1,2012.8 C556.4,2015.3 562.4,2016.9 567.0,2014.8 C571.6,2012.7 574.3,2005.7 578.9,1999.9 C583.5,1994.1 589.5,1986.0 594.8,1980.1 C600.1,1974.1 605.3,1968.5 610.6,1964.2 C615.9,1959.9 620.5,1957.6 626.5,1954.3 C632.5,1951.0 639.3,1946.7 646.3,1944.4 C653.2,1942.1 660.9,1940.7 668.2,1940.4 C675.5,1940.1 685.3,1942.3 690.0,1942.5 C694.7,1942.7 693.9,1942.3 696.6,1941.8 C699.4,1941.3 703.4,1939.6 706.5,1939.5 C709.6,1939.4 712.6,1939.8 715.1,1941.2 C717.6,1942.6 719.3,1945.2 721.7,1947.8 C724.1,1950.4 727.1,1954.1 729.7,1957.0 C732.4,1959.9 735.2,1962.3 737.6,1965.0 C740.0,1967.7 741.7,1970.3 744.2,1972.9 C746.7,1975.5 749.7,1978.7 752.8,1980.8 C755.9,1982.9 758.9,1984.5 762.8,1985.5 C766.7,1986.5 772.5,1986.1 776.0,1986.8 C779.5,1987.5 780.3,1987.0 783.9,1989.4 C787.5,1991.8 791.9,1998.5 797.5,2001.1 C803.1,2003.7 812.0,2003.5 817.3,2005.0 C822.6,2006.5 823.9,2009.2 829.2,2010.0 C834.5,2010.8 843.0,2007.3 849.0,2010.0 C855.0,2012.7 859.6,2020.6 864.9,2025.9 C870.2,2031.2 875.5,2041.1 880.8,2041.7 C886.1,2042.3 891.7,2033.8 896.7,2029.8 C901.7,2025.8 905.7,2018.9 910.6,2017.9 C915.5,2016.9 921.8,2022.6 926.4,2023.9 C931.0,2025.2 933.7,2023.9 938.3,2025.9 C942.9,2027.9 949.2,2036.1 954.2,2035.8 C959.2,2035.5 963.5,2027.9 968.1,2023.9 C972.7,2019.9 977.7,2012.7 982.0,2012.0 C986.3,2011.3 989.6,2015.0 993.9,2019.9 C998.2,2024.9 1004.1,2035.7 1007.8,2041.7 C1011.5,2047.7 1011.9,2049.5 1015.9,2055.8 C1019.9,2062.1 1027.1,2071.7 1031.7,2079.6 C1036.3,2087.5 1040.2,2098.1 1043.7,2103.4 C1047.2,2108.7 1049.3,2111.3 1052.6,2111.3 C1055.9,2111.3 1059.7,2108.4 1063.5,2103.4 C1067.3,2098.4 1071.4,2089.2 1075.4,2081.6 C1079.4,2074.0 1083.7,2064.1 1087.3,2057.8 C1090.9,2051.5 1093.6,2046.6 1097.2,2043.9 C1100.8,2041.2 1105.5,2043.6 1109.1,2041.9 C1112.7,2040.2 1115.7,2036.2 1119.0,2034.0 C1122.3,2031.8 1125.7,2028.5 1129.0,2029.0 C1132.3,2029.5 1135.6,2030.1 1138.9,2036.9 C1142.2,2043.7 1145.8,2058.3 1148.8,2069.7 C1151.8,2081.1 1153.7,2095.8 1156.7,2105.4 C1159.7,2115.0 1163.4,2125.5 1166.7,2127.2 C1170.0,2128.8 1173.3,2119.9 1176.6,2115.3 C1179.9,2110.7 1183.2,2103.2 1186.5,2099.4 C1189.8,2095.6 1193.4,2091.5 1196.4,2092.5 C1199.4,2093.5 1201.8,2098.0 1204.4,2105.4 C1207.1,2112.8 1209.7,2125.8 1212.3,2137.1 C1214.9,2148.3 1217.5,2161.0 1220.2,2172.9 C1222.9,2184.8 1225.6,2197.4 1228.2,2208.6 C1230.8,2219.8 1233.1,2231.5 1236.1,2240.3 C1239.1,2249.1 1242.4,2259.9 1246.0,2261.5 C1249.6,2263.1 1254.2,2251.1 1257.9,2250.0 C1261.6,2248.9 1264.6,2250.7 1267.9,2255.0 C1271.2,2259.3 1274.5,2267.9 1277.8,2276.0 C1281.1,2284.1 1285.0,2294.9 1287.7,2303.8 C1290.4,2312.7 1292.3,2320.5 1294.0,2329.2 C1295.7,2337.8 1296.6,2345.8 1297.9,2355.7 C1299.2,2365.6 1300.4,2378.8 1301.9,2388.7 C1303.5,2398.6 1305.4,2407.3 1307.2,2415.2 C1309.0,2423.1 1309.6,2430.1 1312.5,2436.3 C1315.4,2442.5 1321.1,2446.7 1324.4,2452.2 C1327.7,2457.7 1329.9,2463.2 1332.3,2469.4 C1334.7,2475.6 1336.9,2485.1 1338.9,2489.3 C1340.9,2493.5 1342.4,2495.1 1344.2,2494.6 C1346.0,2494.1 1347.1,2491.7 1349.5,2486.6 C1351.9,2481.5 1355.7,2471.6 1358.8,2464.1 C1361.9,2456.6 1365.3,2449.3 1368.0,2441.6 C1370.7,2433.9 1371.8,2424.9 1374.7,2417.8 C1377.6,2410.8 1381.7,2404.4 1385.2,2399.3 C1388.7,2394.2 1392.3,2389.8 1395.8,2387.4 C1399.3,2385.0 1403.8,2386.8 1406.4,2384.8 C1409.1,2382.8 1409.9,2381.5 1411.7,2375.5 C1413.5,2369.5 1415.2,2357.2 1417.0,2349.0 C1418.8,2340.8 1420.1,2335.4 1422.3,2326.6 C1424.5,2317.8 1427.6,2305.6 1430.2,2296.1 C1432.8,2286.6 1435.4,2278.5 1438.1,2269.7 C1440.8,2260.9 1443.3,2250.6 1446.1,2243.2 C1448.9,2235.8 1452.0,2232.9 1455.0,2225.0 C1458.0,2217.1 1461.1,2202.8 1463.9,2196.0 C1466.7,2189.2 1469.3,2187.3 1472.0,2184.0 C1474.7,2180.7 1477.0,2179.8 1480.0,2176.0 C1483.0,2172.2 1486.6,2165.7 1489.9,2161.3 C1493.2,2156.9 1496.5,2152.0 1499.8,2149.4 C1503.1,2146.8 1506.8,2145.7 1509.8,2145.5 C1512.8,2145.3 1514.7,2146.5 1517.7,2148.5 C1520.7,2150.5 1524.9,2156.8 1527.6,2157.4 C1530.2,2158.1 1531.3,2156.4 1533.6,2152.4 C1535.9,2148.4 1538.5,2138.6 1541.5,2133.6 C1544.5,2128.6 1547.8,2125.3 1551.4,2122.7 C1555.0,2120.0 1559.7,2121.2 1563.3,2117.7 C1566.9,2114.2 1569.6,2105.9 1573.3,2101.8 C1577.0,2097.7 1580.2,2095.4 1585.2,2092.9 C1590.2,2090.4 1595.4,2088.2 1603.0,2086.9 C1610.6,2085.6 1623.8,2084.8 1630.8,2085.0 C1637.8,2085.2 1638.8,2084.6 1644.7,2087.9 C1650.7,2091.2 1659.6,2101.2 1666.5,2104.8 C1673.4,2108.5 1679.5,2108.5 1686.3,2109.8 C1693.1,2111.1 1701.6,2111.6 1707.2,2112.4 C1712.8,2113.2 1715.6,2113.0 1720.1,2114.7 C1724.6,2116.4 1730.1,2120.2 1734.0,2122.7 C1737.9,2125.2 1740.8,2126.1 1743.6,2129.6 C1746.3,2133.1 1748.5,2138.2 1750.5,2143.4 C1752.5,2148.6 1753.3,2154.9 1755.3,2160.6 C1757.2,2166.3 1759.6,2176.1 1762.2,2177.8 C1764.8,2179.5 1767.3,2171.5 1770.8,2170.9 C1774.2,2170.3 1778.6,2172.0 1782.9,2174.3 C1787.2,2176.6 1792.6,2181.2 1796.6,2184.6 C1800.6,2188.0 1802.9,2192.4 1806.9,2195.0 C1810.9,2197.6 1817.2,2197.5 1820.7,2200.1 C1824.2,2202.7 1825.3,2205.5 1827.6,2210.4 C1829.9,2215.3 1832.2,2224.2 1834.5,2229.4 C1836.8,2234.6 1839.0,2236.8 1841.3,2241.4 C1843.6,2246.0 1845.9,2253.8 1848.2,2256.9 C1850.5,2260.1 1851.7,2259.5 1855.1,2260.3 C1858.5,2261.2 1864.8,2260.6 1868.8,2262.0 C1872.8,2263.4 1876.0,2266.4 1879.2,2268.9 C1882.4,2271.4 1884.9,2272.7 1887.8,2277.0 C1890.7,2281.3 1893.5,2288.6 1896.4,2294.7 C1899.3,2300.8 1902.4,2307.3 1905.0,2313.6 C1907.6,2319.9 1909.2,2326.2 1911.8,2332.5 C1914.4,2338.8 1917.8,2346.6 1920.4,2351.5 C1923.0,2356.4 1924.8,2358.6 1927.3,2361.8 C1929.8,2365.1 1934.1,2369.5 1935.5,2371.0" fill="none" stroke="#008A18" stroke-width="6.5" stroke-linejoin="round" stroke-linecap="round"/>
<path d="M154.0,1757.7 C159.9,1757.7 177.1,1757.5 189.7,1757.7 C202.3,1757.9 216.2,1758.5 229.4,1758.7 C242.6,1758.9 255.8,1758.2 269.0,1758.7 C282.2,1759.2 299.4,1761.0 308.7,1761.7 C318.0,1762.4 319.3,1761.7 324.6,1762.7 C329.9,1763.7 335.5,1765.3 340.5,1767.6 C345.5,1769.9 349.8,1772.7 354.4,1776.5 C359.0,1780.3 363.7,1786.3 368.3,1790.4 C372.9,1794.5 377.2,1799.8 382.1,1801.3 C387.1,1802.8 391.1,1801.5 398.0,1799.4 C404.9,1797.3 417.5,1791.2 423.8,1788.5 C430.1,1785.8 433.0,1784.5 435.7,1783.5 C438.4,1782.5 436.0,1781.5 440.0,1782.7 C444.0,1783.9 453.2,1787.5 459.8,1790.6 C466.4,1793.7 473.1,1797.2 479.7,1801.5 C486.3,1805.8 492.9,1811.9 499.5,1816.4 C506.1,1820.9 512.8,1823.5 519.4,1828.3 C526.0,1833.1 533.9,1840.6 539.2,1845.2 C544.5,1849.8 547.3,1853.5 551.1,1856.1 C554.9,1858.7 558.0,1861.5 562.0,1861.0 C566.0,1860.5 570.8,1857.4 574.9,1853.1 C579.0,1848.8 582.8,1840.8 586.8,1835.2 C590.8,1829.6 594.7,1824.0 598.7,1819.4 C602.7,1814.8 606.6,1810.8 610.6,1807.5 C614.6,1804.2 617.9,1801.8 622.5,1799.5 C627.1,1797.2 632.4,1795.6 638.4,1793.6 C644.4,1791.6 651.7,1788.8 658.3,1787.6 C664.9,1786.4 671.5,1786.9 678.1,1786.6 C684.7,1786.3 692.6,1786.0 697.9,1786.0 C703.2,1786.0 705.8,1785.5 709.8,1786.6 C713.8,1787.7 718.3,1790.9 721.7,1792.6 C725.1,1794.3 726.6,1794.4 730.0,1796.7 C733.4,1799.0 737.3,1802.5 741.9,1806.6 C746.5,1810.7 751.5,1817.7 757.8,1821.5 C764.1,1825.3 774.3,1826.8 779.6,1829.4 C784.9,1832.1 785.5,1834.1 789.5,1837.4 C793.5,1840.7 798.8,1847.2 803.4,1849.3 C808.0,1851.4 812.0,1849.6 817.3,1850.3 C822.6,1851.0 829.9,1853.6 835.2,1853.3 C840.5,1853.0 845.0,1848.3 849.0,1848.3 C853.0,1848.3 855.0,1849.8 859.0,1853.3 C863.0,1856.8 868.6,1866.1 872.9,1869.1 C877.2,1872.1 880.5,1872.4 884.8,1871.1 C889.1,1869.8 894.4,1864.0 898.7,1861.2 C903.0,1858.4 906.3,1854.2 910.6,1854.2 C914.9,1854.2 919.8,1859.9 924.4,1861.2 C929.0,1862.5 934.6,1861.1 938.3,1862.2 C941.9,1863.3 943.5,1865.9 946.3,1868.1 C949.1,1870.2 951.9,1875.6 955.2,1875.1 C958.5,1874.6 962.3,1869.0 966.1,1865.2 C969.9,1861.4 974.4,1855.0 978.0,1852.3 C981.6,1849.6 983.6,1848.5 987.9,1849.3 C992.2,1850.1 998.8,1855.0 1003.8,1857.2 C1008.8,1859.4 1012.7,1860.2 1017.7,1862.2 C1022.7,1864.2 1028.6,1866.0 1033.9,1869.1 C1039.2,1872.2 1044.8,1880.0 1049.8,1881.0 C1054.8,1882.0 1059.4,1878.4 1063.7,1875.1 C1068.0,1871.8 1072.0,1865.8 1075.6,1861.2 C1079.2,1856.6 1082.5,1850.5 1085.5,1847.3 C1088.5,1844.1 1090.4,1842.1 1093.4,1842.3 C1096.4,1842.5 1100.3,1846.5 1103.3,1848.3 C1106.3,1850.1 1108.6,1853.5 1111.3,1853.3 C1114.0,1853.1 1116.4,1849.1 1119.2,1847.3 C1122.0,1845.5 1125.1,1842.0 1128.1,1842.3 C1131.1,1842.6 1134.3,1845.2 1137.1,1849.3 C1139.9,1853.4 1142.4,1859.5 1145.0,1867.1 C1147.6,1874.7 1150.6,1885.6 1152.9,1894.9 C1155.2,1904.2 1156.9,1914.4 1158.9,1922.7 C1160.9,1931.0 1162.8,1939.5 1164.8,1944.5 C1166.8,1949.5 1168.5,1952.5 1170.8,1952.5 C1173.1,1952.5 1175.7,1948.8 1178.7,1944.5 C1181.7,1940.2 1185.7,1931.0 1188.7,1926.7 C1191.7,1922.4 1194.0,1918.4 1196.6,1918.7 C1199.2,1919.0 1201.8,1922.8 1204.5,1928.7 C1207.2,1934.7 1209.8,1944.5 1212.5,1954.4 C1215.2,1964.3 1218.5,1979.3 1220.4,1988.2 C1222.3,1997.1 1221.9,1998.6 1223.8,2007.8 C1225.7,2017.0 1229.0,2032.9 1231.7,2043.5 C1234.4,2054.1 1237.2,2065.9 1239.7,2071.3 C1242.2,2076.8 1243.3,2077.2 1246.6,2076.2 C1249.9,2075.2 1255.7,2066.5 1259.5,2065.3 C1263.3,2064.2 1266.1,2065.7 1269.4,2069.3 C1272.7,2072.9 1276.4,2079.5 1279.4,2087.1 C1282.4,2094.7 1284.7,2104.6 1287.3,2114.9 C1289.9,2125.2 1292.9,2137.4 1295.2,2148.7 C1297.5,2159.9 1299.2,2170.8 1301.2,2182.4 C1303.2,2194.0 1304.8,2207.3 1307.1,2218.1 C1309.4,2228.9 1312.0,2241.2 1315.1,2247.2 C1318.2,2253.1 1322.8,2251.2 1325.7,2253.8 C1328.6,2256.5 1330.1,2258.7 1332.3,2263.1 C1334.5,2267.5 1336.9,2275.2 1338.9,2280.3 C1340.9,2285.4 1342.7,2290.9 1344.2,2293.5 C1345.8,2296.1 1346.2,2296.8 1348.2,2296.1 C1350.2,2295.4 1353.2,2292.4 1356.1,2289.5 C1359.0,2286.6 1362.5,2283.5 1365.4,2278.9 C1368.3,2274.3 1370.4,2266.8 1373.3,2261.7 C1376.2,2256.6 1379.3,2252.7 1382.6,2248.5 C1385.9,2244.3 1389.2,2240.0 1393.2,2236.6 C1397.2,2233.2 1403.1,2232.7 1406.3,2228.0 C1409.5,2223.3 1410.3,2218.1 1412.3,2208.2 C1414.3,2198.3 1416.0,2181.7 1418.3,2168.5 C1420.6,2155.3 1423.2,2142.0 1426.2,2128.8 C1429.2,2115.6 1432.8,2101.3 1436.1,2089.1 C1439.4,2076.9 1442.7,2067.0 1446.0,2055.4 C1449.3,2043.8 1452.7,2028.6 1456.0,2019.7 C1459.3,2010.8 1462.3,2007.1 1465.9,2001.8 C1469.5,1996.5 1473.8,1993.7 1477.8,1987.9 C1481.8,1982.1 1486.2,1973.0 1489.9,1966.8 C1493.6,1960.6 1496.8,1954.5 1499.8,1951.0 C1502.8,1947.5 1505.1,1945.7 1507.8,1946.0 C1510.5,1946.3 1512.4,1949.3 1515.7,1952.9 C1519.0,1956.5 1524.3,1966.5 1527.6,1967.8 C1530.9,1969.1 1532.9,1965.7 1535.6,1960.9 C1538.2,1956.1 1540.5,1946.0 1543.5,1939.0 C1546.5,1932.0 1550.1,1924.5 1553.4,1919.2 C1556.7,1913.9 1559.7,1911.3 1563.3,1907.3 C1566.9,1903.3 1570.6,1898.2 1575.2,1895.4 C1579.8,1892.6 1585.5,1890.7 1591.1,1890.4 C1596.7,1890.1 1603.0,1892.1 1609.0,1893.4 C1615.0,1894.7 1621.2,1896.1 1626.8,1898.4 C1632.4,1900.7 1638.1,1903.8 1642.7,1907.3 C1647.3,1910.8 1650.6,1914.9 1654.6,1919.2 C1658.6,1923.5 1661.9,1929.9 1666.5,1933.1 C1671.1,1936.2 1677.1,1935.8 1682.4,1938.1 C1687.7,1940.4 1692.3,1943.5 1698.3,1947.0 C1704.2,1950.5 1712.5,1954.6 1718.1,1958.9 C1723.7,1963.2 1726.9,1967.0 1732.0,1972.8 C1737.1,1978.6 1744.3,1986.9 1748.5,1993.8 C1752.7,2000.7 1754.5,2008.7 1757.1,2014.4 C1759.7,2020.1 1760.8,2023.6 1763.9,2028.2 C1767.1,2032.8 1772.0,2037.0 1776.0,2041.9 C1780.0,2046.8 1784.0,2052.2 1788.0,2057.4 C1792.0,2062.6 1796.4,2068.6 1800.1,2072.9 C1803.8,2077.2 1806.7,2080.0 1810.4,2083.2 C1814.1,2086.3 1819.2,2087.5 1822.4,2091.8 C1825.6,2096.1 1827.3,2103.0 1829.3,2109.0 C1831.3,2115.0 1832.8,2122.2 1834.5,2127.9 C1836.2,2133.6 1837.6,2139.1 1839.6,2143.4 C1841.6,2147.7 1844.8,2150.0 1846.5,2153.7 C1848.2,2157.4 1847.3,2163.5 1849.9,2165.7 C1852.5,2167.8 1858.3,2166.6 1862.0,2166.6 C1865.7,2166.6 1869.1,2163.8 1872.3,2165.7 C1875.5,2167.6 1877.8,2173.2 1880.9,2177.8 C1884.1,2182.4 1887.8,2186.9 1891.2,2193.2 C1894.6,2199.5 1898.6,2208.1 1901.5,2215.6 C1904.4,2223.1 1906.1,2230.8 1908.4,2238.0 C1910.7,2245.2 1912.7,2252.6 1915.3,2258.6 C1917.9,2264.6 1921.5,2270.4 1923.9,2274.1 C1926.4,2277.8 1928.1,2278.3 1930.0,2281.0 C1931.9,2283.7 1934.6,2288.5 1935.5,2290.0" fill="none" stroke="#FF0000" stroke-width="6.5" stroke-linejoin="round" stroke-linecap="round"/>
<text x="284.8" y="2576.4" font-size="65" fill="#333" textLength="144.9" lengthAdjust="spacingAndGlyphs">1740</text>
<text x="430.0" y="2456.2" font-size="65" fill="#333" textLength="143.7" lengthAdjust="spacingAndGlyphs">1640</text>
<text x="709.1" y="2519.9" font-size="65" fill="#333" textLength="144.9" lengthAdjust="spacingAndGlyphs">1450</text>
<text x="608.6" y="2692.8" font-size="65" fill="#333" textLength="144.4" lengthAdjust="spacingAndGlyphs">1503</text>
<text x="981.5" y="2792.8" font-size="65" fill="#333" textLength="142.6" lengthAdjust="spacingAndGlyphs">1235</text>
</svg>
</body></html>
